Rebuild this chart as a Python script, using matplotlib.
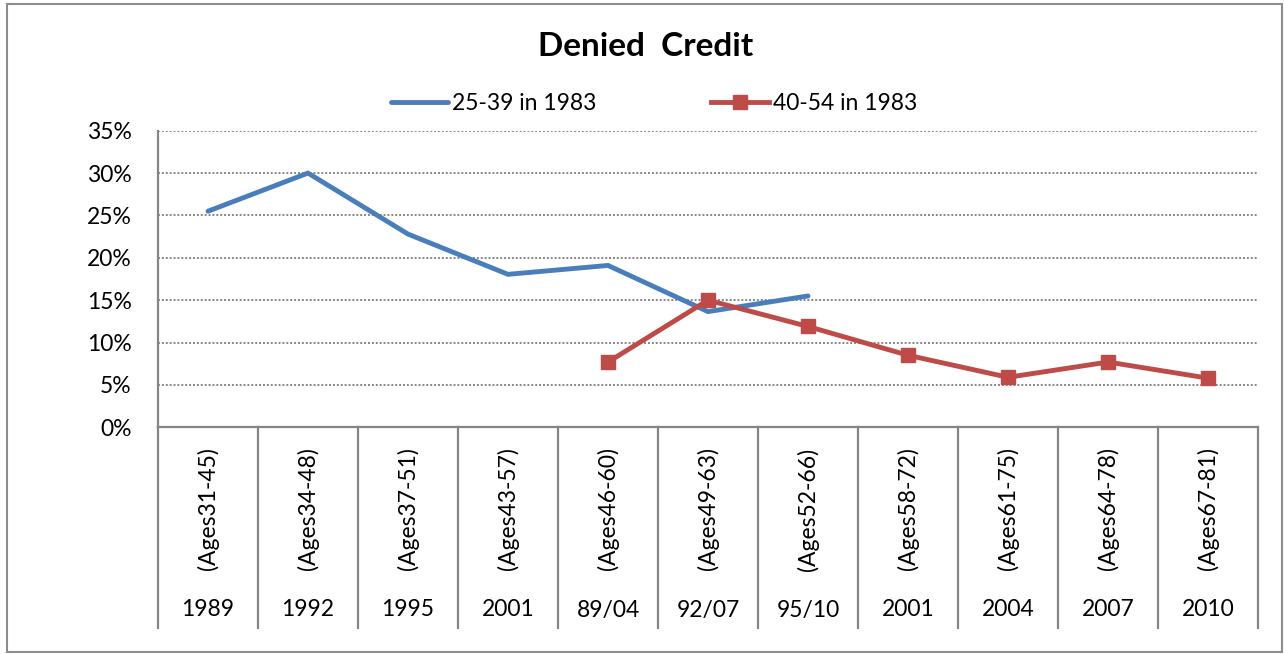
import matplotlib
matplotlib.use("Agg")
import matplotlib.pyplot as plt
import numpy as np
from matplotlib.patches import Rectangle

title = "Denied  Credit"
years = ["1989", "1992", "1995", "2001", "89/04", "92/07", "95/10", "2001", "2004", "2007", "2010"]
ages = ["(Ages31-45)", "(Ages34-48)", "(Ages37-51)", "(Ages43-57)", "(Ages46-60)", "(Ages49-63)",
        "(Ages52-66)", "(Ages58-72)", "(Ages61-75)", "(Ages64-78)", "(Ages67-81)"]
series1_name = "25-39 in 1983"
series1 = [25.5, 30.0, 22.8, 18.05, 19.1, 13.65, 15.5, None, None, None, None]
series2_name = "40-54 in 1983"
series2 = [None, None, None, None, 7.7, 15.0, 11.9, 8.5, 5.9, 7.7, 5.8]
yticks = [0, 5, 10, 15, 20, 25, 30, 35]

plt.rcParams['font.family'] = ['Lato', 'DejaVu Sans']
FS = 16.5
BLUE = "#4A7EBB"
RED = "#BE4B48"
GREY = "#868686"

W, H = 1284, 654
fig = plt.figure(figsize=(W / 100, H / 100), dpi=100)
ax_l, ax_r, ax_t, ax_b = 158, 1258, 130.7, 427.3
ax = fig.add_axes([ax_l / W, 1 - ax_b / H, (ax_r - ax_l) / W, (ax_b - ax_t) / H])

x = np.arange(len(years))
s1 = np.array([np.nan if v is None else v for v in series1], dtype=float)
s2 = np.array([np.nan if v is None else v for v in series2], dtype=float)

ax.plot(x, s1, color=BLUE, lw=3.5, solid_capstyle='round', solid_joinstyle='miter', label=series1_name, zorder=3)
ax.plot(x, s2, color=RED, lw=3.5, marker='s', markersize=10.5, markeredgecolor=RED,
        solid_joinstyle='miter', label=series2_name, zorder=4)

ax.set_xlim(-0.5, len(years) - 0.5)
ax.set_ylim(0, 35)
ax.set_yticks(yticks)
ax.set_yticklabels([f"{v}%" for v in yticks], fontsize=FS)
ax.tick_params(axis='y', length=0, pad=19)
ax.set_xticks([])
ax.grid(axis='y', linestyle=(0, (1, 1)), color=GREY, lw=1.4)
ax.set_axisbelow(True)
for s in ['top', 'right']:
    ax.spines[s].set_visible(False)
for s in ['left', 'bottom']:
    ax.spines[s].set_color(GREY)
    ax.spines[s].set_linewidth(1.6)

trans = ax.get_xaxis_transform()
axh = ax_b - ax_t
def ay(py):
    return (ax_b - py) / axh

for b in np.arange(-0.5, len(years), 1.0):
    ax.plot([b, b], [0, ay(628)], transform=trans, color=GREY, lw=1.6, clip_on=False)
for i in range(len(years)):
    ax.text(i, ay(509), ages[i], rotation=90, ha='center', va='center', fontsize=FS,
            transform=trans, clip_on=False)
    ax.text(i, ay(610), years[i], ha='center', va='center', fontsize=FS,
            transform=trans, clip_on=False)

fig.text(646 / W, 1 - 47 / H, title, ha='center', va='center', fontsize=24, fontweight='bold')

fig.legend(loc='center', bbox_to_anchor=(654 / W, 1 - 104 / H), ncol=2, frameon=False,
           fontsize=FS, handlelength=2.5, columnspacing=5.0, handletextpad=0.2)

fig.patches.append(Rectangle((7 / W, 1 - 652 / H), (1282 - 7) / W, (652 - 4) / H,
                             transform=fig.transFigure, fill=False, edgecolor="#8C8C8C", lw=1.5))

fig.savefig("out.png", dpi=100)
